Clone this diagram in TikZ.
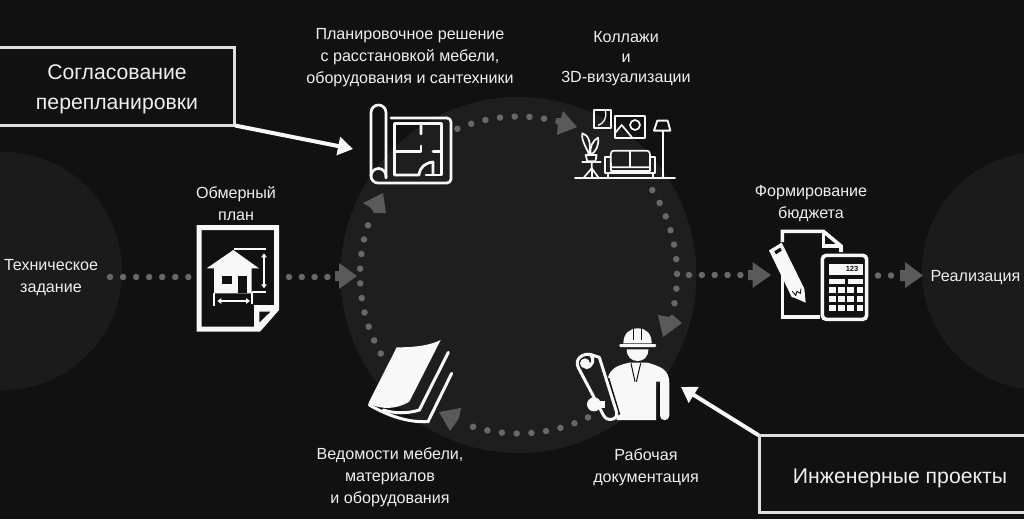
\documentclass[tikz,border=0pt]{standalone}
\usepackage{fontspec}
\setmainfont{Liberation Sans}
\usetikzlibrary{arrows.meta,calc}
\definecolor{bgc}{HTML}{111111}
\definecolor{ringc}{HTML}{1E1E1E}
\definecolor{sidec}{HTML}{1B1B1B}
\definecolor{dotc}{HTML}{686868}
\definecolor{headc}{HTML}{5A5A5A}
\definecolor{txt}{HTML}{EFEFEF}
\definecolor{iconc}{HTML}{F8F8F8}
\tikzset{
  zoomat/.style={shift={(#1)},x=.33333pt,y=-.33333pt},
  dotline/.style={draw=dotc,line width=6.5pt,line cap=round,dash pattern=on 0pt off #1},
  headfill/.style={fill=headc,draw=none},
  label/.style={text=txt,align=center,font=\fontsize{16.1}{22}\selectfont,inner sep=0pt},
  callbox/.style={draw=iconc!90!black,line width=3pt},
  calltext/.style={text=txt,align=center,inner sep=0pt,font=\fontsize{21.2}{30}\selectfont},
  callarrow/.style={draw=iconc,line width=4pt,-{Triangle[length=15pt,width=18pt]}},
  ic/.style={draw=iconc,line width=2.7pt,line cap=round,line join=round},
  icf/.style={fill=iconc,draw=none},
}
\begin{document}
\begin{tikzpicture}[x=1pt,y=-1pt]
\useasboundingbox (0,0) rectangle (1024,519);
\clip (0,0) rectangle (1024,519);
\fill[bgc] (0,0) rectangle (1024,519);
% discs
\coordinate (rc) at (518.5,275);
\fill[sidec] (3,271) circle[radius=119];
\fill[sidec] (1041,271) circle[radius=119];
\fill[ringc] (rc) circle[radius=178];
% dotted connectors
\coordinate (ts) at (110,277);
\coordinate (te) at (188.5,277);
\coordinate (os) at (289,277);
\coordinate (oe) at (328,277);
\coordinate (bs) at (689,275);
\coordinate (be) at (741,275);
\coordinate (rs) at (878,275.5);
\coordinate (re) at (892,275.5);
\draw[dotline=13.05pt] (ts) -- (te);
\draw[dotline=12.8pt] (os) -- (oe);
\draw[dotline=12.85pt] (bs) -- (be);
\draw[dotline=13pt] (rs) -- (re);
\draw[dotline=14.75pt] ($(rc)+(-112.7:158.5)$) arc[start angle=-112.7,end angle=-80.3,radius=158.5];
\draw[dotline=14.75pt] ($(rc)+(-32.4:158.5)$) arc[start angle=-32.4,end angle=10.7,radius=158.5];
\draw[dotline=14.75pt] ($(rc)+(64:158.5)$) arc[start angle=64,end angle=107.5,radius=158.5];
\draw[dotline=14.75pt] ($(rc)+(150.3:158.5)$) arc[start angle=150.3,end angle=199.4,radius=158.5];
% arrow heads
\fill[headfill] (335,271) -- (339,271) -- (339,263) -- (357,276) -- (339,289) -- (339,281) -- (335,281) -- cycle;
\fill[headfill] (748,270) -- (752.5,270) -- (752.5,262) -- (771,275) -- (752.5,288) -- (752.5,280) -- (748,280) -- cycle;
\fill[headfill] (900,270) -- (905,270) -- (905,262) -- (923,275.5) -- (905,288) -- (905,281) -- (900,281) -- cycle;
\fill[headfill] (563,111) -- (577,127) -- (557,135) -- (558,125) -- (555,123) -- (556,118) -- (561,118) -- cycle;
\fill[headfill] (658,315) -- (669,317) -- (672,314.5) -- (682,323) -- (663,337) -- cycle;
\fill[headfill] (439,412) -- (461,408) -- (459,418) -- (455,424) -- (450,431) -- cycle;
\fill[headfill] (383,193) -- (363,203) -- (371,208) -- (374,213) -- (386,213) -- cycle;
% labels
\node[label] (lt) at (51,278) {Техническое\\задание};
\node[label] (lo) at (236,203.5) {Обмерный\\план};
\node[label] (lp) at (410,57.5) {Планировочное решение\\с расстановкой мебели,\\оборудования и сантехники};
\node[label] (lk) at (626,58.5) {Коллажи\\[-2pt]и\\[-2pt]3D-визуализации};
\node[label] (lf) at (811,203.5) {Формирование\\бюджета};
\node[label] (lr) at (975.5,277.5) {Реализация};
\node[label] (ld) at (646,467) {Рабочая\\документация};
\node[label] (lv) at (390,477.5) {Ведомости мебели,\\материалов\\и оборудования};
% callouts
\node[callbox,minimum width=236.1pt,minimum height=77.5pt] (cb1) at (116.45,86.25) {};
\node[callbox,minimum width=282pt,minimum height=77pt] (cb2) at (900,474.2) {};
\node[calltext] (ct1t) at (117,89.5) {Согласование\\перепланировки};
\node[calltext] (ct2t) at (900,478) {Инженерные проекты};
\coordinate (ct1) at (353,149);
\coordinate (ct2) at (681,387);
\draw[callarrow] (cb1.south east) ++(-1,-1) -- (ct1);
\draw[callarrow] (cb2.north west) ++(1,1) -- (ct2);
% === blueprint icon
\draw[ic] (391,118) -- (447,118) arc[start angle=-90,end angle=0,radius=4] -- (451,179) arc[start angle=0,end angle=90,radius=4] -- (378,183) arc[start angle=90,end angle=180,radius=7] -- (371,112.5) arc[start angle=180,end angle=360,radius=7.5] -- (386,177);
\draw[ic] (371,176) arc[start angle=180,end angle=360,radius=7.5] -- (386,178);
\draw[ic] (421,134) -- (421,123.5) -- (394.5,123.5) -- (394.5,175) -- (419,175) .. controls (420,167) and (425,163) .. (433,162) -- (433,175);
\draw[ic] (426,175) -- (441.5,175) -- (441.5,123.5) -- (421,123.5);
\draw[ic] (394.5,151.5) -- (421,151.5) -- (421,146);
\draw[ic] (433,151.5) -- (441.5,151.5);
% === room icon
\begin{scope}[zoomat={570,100}]
\draw[ic,line width=1.9pt] (15,233) -- (315,233);
\draw[ic,line width=1.9pt] (278,95) -- (278,233);
\draw[ic,line width=1.9pt] (262,62) -- (293,62) -- (301,92) -- (252,92) -- cycle;
\draw[ic,line width=1.9pt] (73,30) rectangle (123,83);
\draw[ic,line width=1.3pt] (106,32) .. controls (112,55) and (100,70) .. (85,76);
\draw[ic,line width=1.9pt] (135,47) rectangle (225,115);
\draw[ic,line width=1.7pt] (137,97) -- (155,75) -- (186,112);
\draw[ic,line width=1.7pt] (195,75) circle[radius=15];
\draw[ic,line width=1.7pt] (122,170) .. controls (122,155) and (125,152) .. (135,152) -- (228,152) .. controls (238,152) and (240,157) .. (240,170) -- (240,202) -- (122,202) -- cycle;
\draw[ic,line width=1.7pt] (181,152) -- (181,202);
\draw[ic,line width=1.7pt] (122,170) -- (106,170) -- (106,220) -- (256,220) -- (256,170) -- (240,170);
\draw[ic,line width=1.7pt] (122,190) -- (122,212) -- (240,212) -- (240,190);
\draw[ic,line width=1.7pt] (113,220) -- (113,233);
\draw[ic,line width=1.7pt] (248,220) -- (248,233);
\draw[ic,line width=1.7pt] (57,165) .. controls (50,140) and (33,125) .. (37,100) .. controls (55,103) and (65,130) .. (57,165);
\draw[ic,line width=1.7pt] (62,165) .. controls (58,140) and (70,120) .. (84,113) .. controls (88,135) and (78,155) .. (62,165);
\draw[ic,line width=1.7pt] (47,165) -- (80,165) -- (76,184) -- (52,184) -- cycle;
\draw[ic,line width=1.9pt] (37,187) -- (92,187);
\draw[ic,line width=1.7pt] (65,188) -- (65,205) -- (42,232);
\draw[ic,line width=1.7pt] (65,205) -- (85,232);
\draw[ic,line width=1.7pt] (65,205) -- (65,232);
\end{scope}
% === survey plan icon
\begin{scope}[zoomat={180,210}]
\fill[iconc,even odd rule] (50,45) -- (297,45) -- (297,300) -- (240,365) -- (50,365) -- cycle
  (65,60) -- (282,60) -- (282,285) -- (222,285) -- (222,350) -- (65,350) -- cycle
  (238,305) -- (272,305) -- (238,338) -- cycle;
\fill[iconc] (80,175) -- (160,120) -- (237,175) -- (215,175) -- (215,250) -- (102,250) -- (102,175) -- cycle;
\fill[bgc] (125,197) rectangle (157,223);
\fill[bgc] (175,197) rectangle (200,248);
\draw[iconc,line width=1.8pt] (103,250) -- (103,288);
\draw[iconc,line width=1.8pt] (215,245) -- (215,283);
\draw[iconc,line width=1.8pt] (163,118) -- (258,118);
\draw[iconc,line width=1.8pt] (217,245) -- (258,245);
\draw[iconc,line width=1.8pt,{Triangle[length=4pt,width=5.5pt]}-{Triangle[length=4pt,width=5.5pt]}] (252,130) -- (252,235);
\draw[iconc,line width=1.8pt,{Triangle[length=4pt,width=5.5pt]}-{Triangle[length=4pt,width=5.5pt]}] (112,273) -- (210,273);
\end{scope}
% === budget icon
\begin{scope}[zoomat={765,222}]
\draw[iconc,line width=3.6pt,line join=miter] (52,60) -- (52,28) -- (175,28) -- (228,72) -- (228,90);
\draw[iconc,line width=3.2pt,line join=miter] (175,28) -- (175,72) -- (228,72);
\draw[iconc,line width=3.6pt,line join=miter] (52,150) -- (52,285) -- (166,285);
\fill[iconc] (12,85) -- (50,62) -- (118,200) -- (122,242) -- (80,225) -- cycle;
\fill[bgc] (28,88) -- (46,77) -- (50,86) -- (33,97) -- cycle;
\draw[bgc,line width=.9pt] (82,208) -- (92,220) -- (96,208) -- (106,214) -- (108,200);
\draw[bgc,line width=.9pt] (85,228) -- (112,240);
\draw[iconc,line width=3.6pt,rounded corners=4pt,fill=bgc] (172,100) rectangle (305,292);
\fill[iconc] (192,125) rectangle (295,158);
\node[text=bgc,font=\fontsize{7.5}{8}\bfseries\selectfont,inner sep=0pt] (calc123) at (261,142) {123};
\fill[iconc] (192,172) rectangle (240,187);
\fill[iconc] (248,172) rectangle (295,187);
\foreach \yy in {195,222,248}{\foreach \xx in {192,220,247,275}{\fill[iconc] (\xx,\yy) rectangle ++(20,19);}}
\end{scope}
% === worker icon
\begin{scope}[zoomat={570,325}]
\fill[iconc] (160,55) .. controls (160,25) and (180,10) .. (203,10) .. controls (228,10) and (245,25) .. (245,55) -- cycle;
\draw[bgc,line width=1pt] (191,10) -- (191,45);
\draw[bgc,line width=1pt] (214,10) -- (214,45);
\fill[iconc,rounded corners=1pt] (148,57) rectangle (258,66);
\fill[iconc] (170,73) -- (235,73) .. controls (235,95) and (222,108) .. (203,108) .. controls (184,108) and (170,95) .. (170,73) -- cycle;
\fill[iconc] (112,170) .. controls (115,135) and (135,122) .. (178,113) -- (232,113) .. controls (275,125) and (298,135) .. (298,175) -- (298,272) .. controls (298,290) and (270,290) .. (270,272) -- (270,170) -- (258,170) -- (258,285) -- (140,285) -- (140,252) -- cycle;
\draw[bgc,line width=1pt] (183,115) -- (195,170);
\draw[bgc,line width=1pt] (212,115) -- (199,170);
\draw[bgc,line width=4pt] (112,160) -- (145,270);
\draw[ic,line width=3pt] (88,97) -- (140,262) .. controls (145,285) and (110,292) .. (100,270) -- (25,128) .. controls (12,100) and (40,85) .. (60,88) -- (88,97);
\draw[ic,line width=3pt] (48,128) .. controls (70,125) and (75,100) .. (60,88);
\fill[iconc] (45,115) circle[radius=15];
\fill[iconc] (72,238) circle[radius=21];
\fill[iconc] (72,228) rectangle (105,248);
\end{scope}
% === book icon
\begin{scope}[zoomat={350,320}]
\fill[iconc] (140,82) .. controls (190,82) and (235,78) .. (272,60) -- (178,245) .. controls (140,268) and (95,270) .. (55,250) -- cycle;
\draw[iconc,line width=3pt,line cap=round] (295,97) -- (208,270) .. controls (170,282) and (130,280) .. (100,270);
\draw[iconc,line width=3pt,line cap=round] (305,160) -- (234,305) .. controls (170,308) and (110,285) .. (58,255);
\end{scope}
\end{tikzpicture}
\end{document}
